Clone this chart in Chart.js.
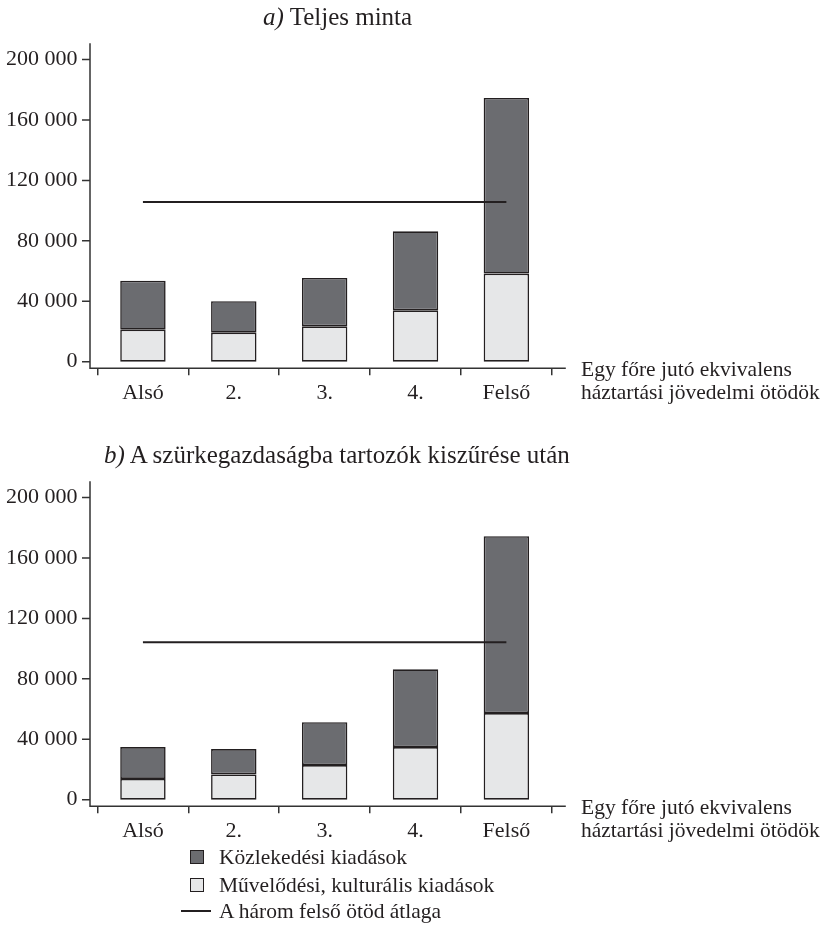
<!DOCTYPE html>
<html><head><meta charset="utf-8">
<script src="https://cdn.jsdelivr.net/npm/chart.js@4.4.1/dist/chart.umd.min.js"></script>
<style>
html,body{margin:0;padding:0;background:#fff;}
body{width:831px;height:941px;position:relative;overflow:hidden;font-family:"Liberation Serif","Times New Roman",serif;color:#231f20;}
canvas{position:absolute;left:0;}
.t{position:absolute;font-size:25px;white-space:nowrap;line-height:25px;}
.cap{position:absolute;font-size:21.5px;white-space:nowrap;line-height:23px;}
.lg{position:absolute;font-size:21.5px;white-space:nowrap;line-height:22px;}
.box{position:absolute;width:12px;height:12px;border:1px solid #231f20;}
.ln{position:absolute;height:2px;background:#231f20;}
</style></head><body>
<canvas id="ca" width="831" height="438" style="top:0"></canvas>
<canvas id="cb" width="831" height="438" style="top:438px"></canvas>
<div class="t" style="left:263px;top:4px"><i>a)</i> Teljes minta</div>
<div class="t" style="left:104px;top:442px"><i>b)</i> A szürkegazdaságba tartozók kiszűrése után</div>
<div class="cap" style="left:581px;top:358px">Egy főre jutó ekvivalens<br>háztartási jövedelmi ötödök</div>
<div class="cap" style="left:581px;top:796px">Egy főre jutó ekvivalens<br>háztartási jövedelmi ötödök</div>
<div id="legend"></div>
<script>
// ---- data ----
const categories = ['Alsó', '2.', '3.', '4.', 'Felső'];
const yTickValues = [0, 40000, 80000, 120000, 160000, 200000];
const seriesNames = ['Közlekedési kiadások', 'Művelődési, kulturális kiadások', 'A három felső ötöd átlaga'];
// a) Teljes minta
const kulturA = [21200, 19200, 23400, 34000, 58300];
const kozlekedesA = [32400, 20800, 32000, 52300, 116300];
const atlagA = [105700, 105700, 105700, 105700, 105700];
// b) A szürkegazdaságba tartozók kiszűrése után
const kulturB = [13700, 16700, 22900, 34800, 57300];
const kozlekedesB = [21100, 16800, 28400, 51500, 117100];
const atlagB = [104200, 104200, 104200, 104200, 104200];

const INK = '#231f20';
const DARK = '#6b6c70';
const LIGHT = '#e6e7e8';
const FONT = {family: "'Liberation Serif', 'Times New Roman', serif", size: 22};

function fmt(v) { return String(v).replace(/\B(?=(\d{3})+(?!\d))/g, ' '); }

const axisLines = {
  id: 'axisLines',
  afterDraw(chart) {
    const {ctx, chartArea: a} = chart;
    const y = chart.scales.y;
    const x0 = a.left - 7.5;
    ctx.save();
    ctx.strokeStyle = '#333';
    ctx.lineWidth = 1.5;
    ctx.beginPath();
    ctx.moveTo(x0, a.top); ctx.lineTo(x0, a.bottom + 0.75);
    ctx.moveTo(x0 - 0.75, a.bottom); ctx.lineTo(a.right + 14, a.bottom);
    y.ticks.forEach(t => {
      const py = y.getPixelForValue(t.value);
      ctx.moveTo(x0 - 8, py); ctx.lineTo(x0, py);
    });
    ctx.stroke();
    ctx.restore();
  }
};

function makeChart(id, kultur, kozlekedes, atlag) {
  return new Chart(document.getElementById(id), {
    type: 'bar',
    data: {
      labels: categories,
      datasets: [
        {label: seriesNames[1], data: kultur, backgroundColor: LIGHT, borderColor: INK, borderWidth: 1.6, borderSkipped: false, stack: 's', order: 2},
        {label: seriesNames[0], data: kozlekedes, backgroundColor: DARK, borderColor: INK, borderWidth: 1.6, borderSkipped: false, stack: 's', order: 2},
        {type: 'line', label: seriesNames[2], data: atlag, borderColor: INK, backgroundColor: INK, borderWidth: 2, pointRadius: 0, fill: false, order: 1}
      ]
    },
    options: {
      responsive: false,
      animation: false,
      devicePixelRatio: 1,
      categoryPercentage: 1,
      barPercentage: 0.5,
      layout: {padding: {left: 0, right: 279.2, top: 43.3, bottom: 0}},
      plugins: {legend: {display: false}, title: {display: false}, tooltip: {enabled: false}},
      scales: {
        x: {
          stacked: true,
          border: {display: false},
          grid: {display: true, offset: true, drawOnChartArea: false, drawTicks: true, tickLength: 7, color: '#333', lineWidth: 1.5},
          ticks: {font: FONT, color: INK, padding: 5, maxRotation: 0, autoSkip: false},
          afterFit(s) { s.height = 69.7; }
        },
        y: {
          stacked: true,
          min: -4400,
          max: 210800,
          border: {display: false},
          grid: {display: false, drawTicks: true, tickLength: 8},
          ticks: {font: FONT, color: INK, padding: 12, callback: v => fmt(v)},
          afterBuildTicks(s) { s.ticks = yTickValues.map(v => ({value: v})); },
          afterFit(s) { s.width = 97.5; }
        }
      }
    },
    plugins: [axisLines]
  });
}

const chartA = makeChart('ca', kulturA, kozlekedesA, atlagA);
const chartB = makeChart('cb', kulturB, kozlekedesB, atlagB);

// shared legend built from chart b's datasets
(function buildLegend() {
  const lg = document.getElementById('legend');
  const ds = chartB.data.datasets;
  const orderIdx = [1, 0, 2];
  const rowsY = [857, 885, 911];
  orderIdx.forEach((di, r) => {
    const d = ds[di];
    const cy = rowsY[r];
    if (d.type === 'line') {
      const l = document.createElement('div');
      l.className = 'ln';
      l.style.cssText = `left:181px;width:30px;top:${cy - 1}px;background:${d.borderColor}`;
      lg.appendChild(l);
    } else {
      const b = document.createElement('div');
      b.className = 'box';
      b.style.cssText = `left:190px;top:${cy - 7}px;background:${d.backgroundColor}`;
      lg.appendChild(b);
    }
    const t = document.createElement('div');
    t.className = 'lg';
    t.style.cssText = `left:219px;top:${cy - 11}px`;
    t.textContent = d.label;
    lg.appendChild(t);
  });
})();
</script>
</body></html>
